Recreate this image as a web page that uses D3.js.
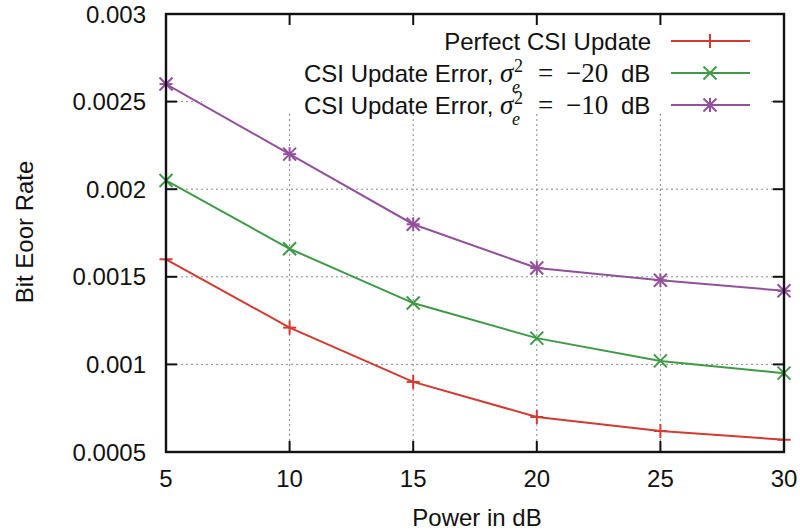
<!DOCTYPE html>
<html><head><meta charset="utf-8">
<script src="https://cdn.jsdelivr.net/npm/d3@7"></script>
<style>body{margin:0;background:#fff}svg{display:block}</style>
</head><body><svg id="c" width="800" height="531"></svg>
<script>
const powers = [5, 10, 15, 20, 25, 30];
const perfect = [0.00160, 0.00121, 0.00090, 0.00070, 0.00062, 0.00057];
const err20 = [0.00205, 0.00166, 0.00135, 0.00115, 0.00102, 0.00095];
const err10 = [0.00260, 0.00220, 0.00180, 0.00155, 0.00148, 0.00142];
const xTicks = [5, 10, 15, 20, 25, 30];
const yTicks = [0.0005, 0.001, 0.0015, 0.002, 0.0025, 0.003];
const yTickLabels = ["0.0005", "0.001", "0.0015", "0.002", "0.0025", "0.003"];
const legendValues = ["−20", "−10"];

const series = [
  {name: "perfect", values: perfect, color: "#d23a32", marker: "plus"},
  {name: "err20", values: err20, color: "#3f9a48", marker: "cross"},
  {name: "err10", values: err10, color: "#93509c", marker: "star"}
];

const svg = d3.select("#c");
const L = 166, R = 784, T = 14, B = 452;
const x = d3.scaleLinear().domain([5, 30]).range([L, R]);
const y = d3.scaleLinear().domain([0.0005, 0.003]).range([B, T]);
const font = "'Liberation Sans', Arial, Helvetica, sans-serif";
const serif = "'Liberation Serif', 'DejaVu Serif', serif";
const FS = 24;

// grid
const grid = svg.append("g").attr("stroke", "#888").attr("stroke-width", 1).attr("stroke-dasharray", "2,3");
xTicks.slice(1, -1).forEach(v => grid.append("line").attr("x1", x(v)).attr("x2", x(v)).attr("y1", T).attr("y2", B));
yTicks.slice(1, -1).forEach(v => grid.append("line").attr("x1", L).attr("x2", R).attr("y1", y(v)).attr("y2", y(v)));

// legend background covering grid
svg.append("rect").attr("x", 202).attr("y", T + 2).attr("width", 566).attr("height", 98).attr("fill", "#fff");

// ticks (inward, mirrored)
const tk = svg.append("g").attr("stroke", "#111").attr("stroke-width", 2);
const tl = 11;
xTicks.forEach(v => {
  tk.append("line").attr("x1", x(v)).attr("x2", x(v)).attr("y1", B).attr("y2", B - tl);
  tk.append("line").attr("x1", x(v)).attr("x2", x(v)).attr("y1", T).attr("y2", T + tl);
});
yTicks.forEach(v => {
  tk.append("line").attr("x1", L).attr("x2", L + tl).attr("y1", y(v)).attr("y2", y(v));
  tk.append("line").attr("x1", R).attr("x2", R - tl).attr("y1", y(v)).attr("y2", y(v));
});

// tick labels
svg.append("g").selectAll("text").data(xTicks).join("text")
  .attr("x", d => x(d)).attr("y", 487).attr("text-anchor", "middle")
  .attr("font-family", font).attr("font-size", FS).attr("fill", "#111").text(d => d);
svg.append("g").selectAll("text").data(yTicks).join("text")
  .attr("x", 146).attr("y", d => y(d) + 8.5).attr("text-anchor", "end")
  .attr("font-family", font).attr("font-size", FS).attr("fill", "#111").text((d, i) => yTickLabels[i]);

// axis titles
svg.append("text").attr("x", 477).attr("y", 526).attr("text-anchor", "middle")
  .attr("font-family", font).attr("font-size", FS).attr("fill", "#111").text("Power in dB");
svg.append("text").attr("transform", "translate(33,232) rotate(-90)").attr("text-anchor", "middle")
  .attr("font-family", font).attr("font-size", FS).attr("fill", "#111").text("Bit Eoor Rate");

function drawMarker(g, type, cx, cy, color) {
  const s = 6.5;
  const m = g.append("g").attr("stroke", color).attr("stroke-width", 2).attr("fill", "none");
  if (type === "plus" || type === "star") {
    if (type === "plus") m.append("line").attr("x1", cx - s).attr("x2", cx + s).attr("y1", cy).attr("y2", cy);
    m.append("line").attr("x1", cx).attr("x2", cx).attr("y1", cy - s - 0.5).attr("y2", cy + s + 0.5);
  }
  if (type === "cross" || type === "star") {
    m.append("line").attr("x1", cx - s).attr("x2", cx + s).attr("y1", cy - s).attr("y2", cy + s);
    m.append("line").attr("x1", cx - s).attr("x2", cx + s).attr("y1", cy + s).attr("y2", cy - s);
  }
  if (type === "star") {
    m.append("line").attr("x1", cx - s).attr("x2", cx + s).attr("y1", cy).attr("y2", cy);
  }
}

// data lines
const line = d3.line().x((d, i) => x(powers[i])).y(d => y(d));
const plot = svg.append("g");
series.forEach(s => {
  plot.append("path").attr("d", line(s.values)).attr("fill", "none")
    .attr("stroke", s.color).attr("stroke-width", 2);
  s.values.forEach((v, i) => drawMarker(plot, s.marker, x(powers[i]), y(v), s.color));
});

// legend
const lg = svg.append("g");
const rows = [41, 73, 105];
series.forEach((s, i) => {
  lg.append("line").attr("x1", 671).attr("x2", 750).attr("y1", rows[i]).attr("y2", rows[i])
    .attr("stroke", s.color).attr("stroke-width", 2);
  drawMarker(lg, s.marker, 710, rows[i], s.color);
});

lg.append("text").attr("x", 651).attr("y", rows[0] + 9).attr("text-anchor", "end")
  .attr("font-family", font).attr("font-size", FS).attr("fill", "#111").text("Perfect CSI Update");

legendValues.forEach((val, k) => {
  const r = rows[k + 1];
  const t = lg.append("text").attr("font-family", font).attr("font-size", FS).attr("fill", "#111");
  const sp = (xx, yy, str, family, size, italic) => t.append("tspan").attr("x", xx).attr("y", yy)
    .attr("font-family", family).attr("font-size", size).attr("font-style", italic ? "italic" : "normal").text(str);
  sp(304, r + 9, "CSI Update Error,", font, FS, false);
  sp(500, r + 9, "σ", serif, 27, true);
  sp(514, r - 1, "2", serif, 18, false);
  sp(512, r + 20, "e", serif, 18, true);
  sp(538, r + 9, "=", serif, 27, false);
  sp(566, r + 9, val, serif, 27, false);
  sp(621, r + 9, "dB", font, FS, false);
});

// frame
svg.append("rect").attr("x", L).attr("y", T).attr("width", R - L).attr("height", B - T)
  .attr("fill", "none").attr("stroke", "#111").attr("stroke-width", 2.4);
</script></body></html>
